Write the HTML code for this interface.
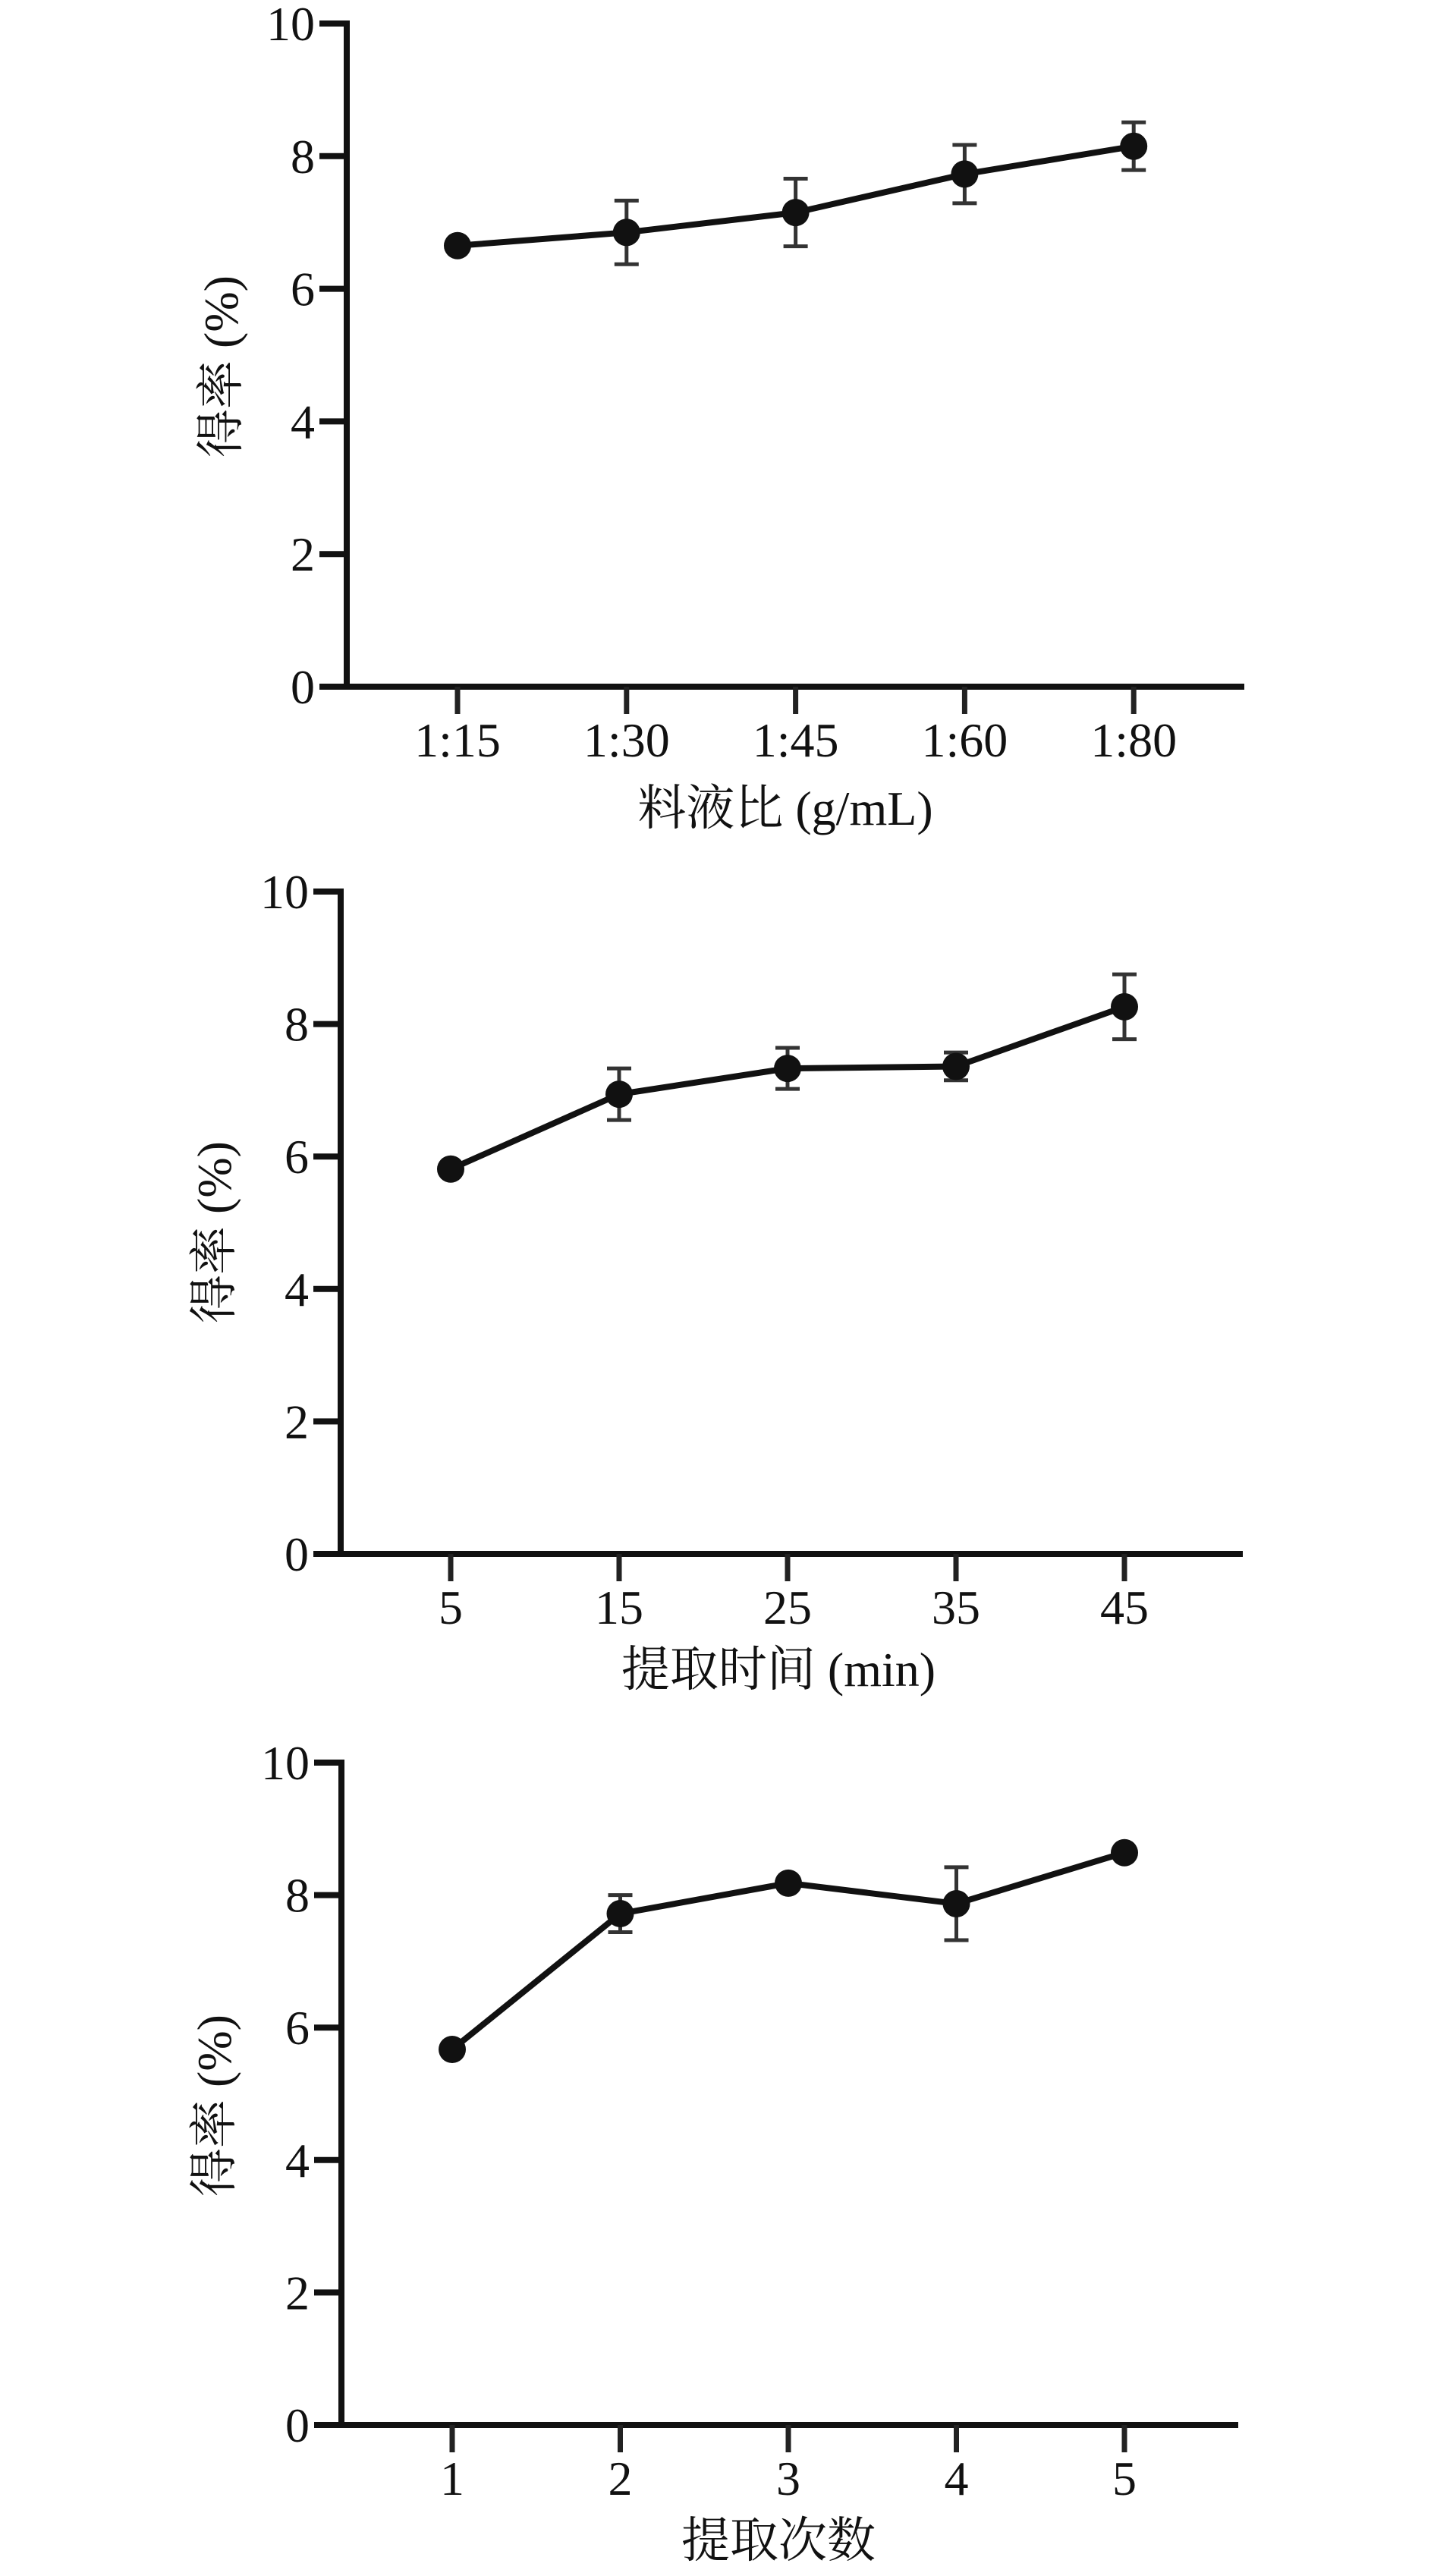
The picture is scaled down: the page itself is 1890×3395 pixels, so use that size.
<!DOCTYPE html>
<html><head><meta charset="utf-8"><style>
html,body{margin:0;padding:0;background:#fff;}
svg{display:block;}
text{font-family:"Liberation Serif","Noto Serif CJK SC",serif;fill:#111;}
</style></head><body>
<svg id="fig" width="1890" height="3395" viewBox="0 0 1890 3395" xmlns="http://www.w3.org/2000/svg"></svg>
<script>
const yTicks = [0, 2, 4, 6, 8, 10];
const cats1 = ["1:15", "1:30", "1:45", "1:60", "1:80"];
const vals1 = [6.65, 6.85, 7.15, 7.73, 8.15];
const errs1 = [0.05, 0.48, 0.51, 0.44, 0.36];
const cats2 = ["5", "15", "25", "35", "45"];
const vals2 = [5.81, 6.94, 7.33, 7.36, 8.26];
const errs2 = [0.05, 0.39, 0.31, 0.21, 0.49];
const cats3 = ["1", "2", "3", "4", "5"];
const vals3 = [5.67, 7.72, 8.18, 7.87, 8.64];
const errs3 = [0.05, 0.28, 0.05, 0.55, 0.05];

const NS = "http://www.w3.org/2000/svg";
const svg = document.getElementById("fig");
function mk(tag, attrs, parent) {
  const e = document.createElementNS(NS, tag);
  for (const k in attrs) e.setAttribute(k, attrs[k]);
  (parent || svg).appendChild(e);
  return e;
}
const panels = [
  {id:"ratio", cats:cats1, vals:vals1, errs:errs1, ax:457, y0:905, y10:31, x0:603, dx:222.8, xEnd:1640, title:"料液比 (g/mL)", tx:1035, ty:1087, ytx:291, yty:483},
  {id:"time", cats:cats2, vals:vals2, errs:errs2, ax:449, y0:2048, y10:1175, x0:594, dx:222, xEnd:1638, title:"提取时间 (min)", tx:1026, ty:2222, ytx:282, yty:1624},
  {id:"count", cats:cats3, vals:vals3, errs:errs3, ax:450, y0:3196, y10:2323, x0:596, dx:221.5, xEnd:1632, title:"提取次数", tx:1026, ty:3370, ytx:282, yty:2775}
];
panels.forEach(p => {
  const g = mk("g", {});
  
  
  const ys = v => p.y0 - (v / 10) * (p.y0 - p.y10);
  const xs = i => p.x0 + i * p.dx;
  // y axis
  const yl = mk("line", {x1:p.ax, y1:p.y10-4, x2:p.ax, y2:p.y0+4, stroke:"#111", "stroke-width":8}, g);
  
  
  const xl = mk("line", {x1:p.ax-36, y1:p.y0, x2:p.xEnd, y2:p.y0, stroke:"#111", "stroke-width":8}, g);
  
  
  yTicks.forEach(t => {
    const y = ys(t);
    mk("line", {x1:p.ax-36, y1:y, x2:p.ax, y2:y, stroke:"#111", "stroke-width":8}, g);
    const tl = mk("text", {x:p.ax-42, y:y+22, "font-size":64, "text-anchor":"end"}, g);
    tl.textContent = t;
    
    
  });
  p.cats.forEach((c, i) => {
    const x = xs(i);
    mk("line", {x1:x, y1:p.y0, x2:x, y2:p.y0+36, stroke:"#222", "stroke-width":7}, g);
    const tl = mk("text", {x:x, y:p.y0+92, "font-size":64, "text-anchor":"middle"}, g);
    tl.textContent = c;
    
    
  });
  // error bars
  p.vals.forEach((v, i) => {
    const x = xs(i), e = p.errs[i];
    const eb = mk("path", {d:`M${x-16},${ys(v+e)}H${x+16}M${x},${ys(v+e)}V${ys(v-e)}M${x-16},${ys(v-e)}H${x+16}`, stroke:"#333", "stroke-width":5, fill:"none"}, g);
    
    
  });
  const pts = p.vals.map((v, i) => xs(i) + "," + ys(v)).join(" ");
  const ln = mk("polyline", {points:pts, fill:"none", stroke:"#111", "stroke-width":8, "stroke-linejoin":"round"}, g);
  
  
  p.vals.forEach((v, i) => {
    const c = mk("circle", {cx:xs(i), cy:ys(v), r:18, fill:"#111"}, g);
    
    
  });
  const xt = mk("text", {x:p.tx, y:p.ty, "font-size":64, "text-anchor":"middle"}, g);
  xt.textContent = p.title;
  
  
  const yt = mk("text", {x:0, y:0, "font-size":64, "text-anchor":"middle", transform:`translate(${p.ytx+22},${p.yty}) rotate(-90)`}, g);
  yt.textContent = "得率 (%)";
  
  
});
</script>
</body></html>
